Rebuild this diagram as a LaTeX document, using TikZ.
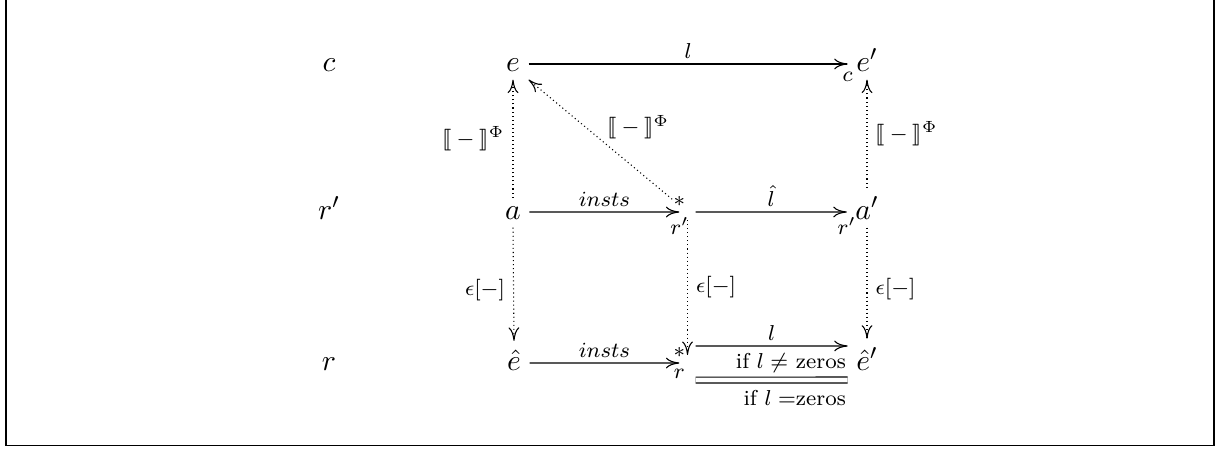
\documentclass[tikz,border=0pt]{standalone}
\usepackage{amsmath,stmaryrd}
\usetikzlibrary{arrows.meta}
\begin{document}
\begin{tikzpicture}[x=0.37037pt,y=-0.37037pt,
  obj/.style={inner sep=3pt, anchor=base, font=\fontsize{10.95}{13}\selectfont},
  lab/.style={font=\fontsize{8}{9.6}\selectfont, inner sep=2pt},
  endlab/.style={font=\fontsize{8}{9.6}\selectfont, inner sep=2pt},
  vlab/.style={font=\fontsize{8}{9.6}\selectfont, inner xsep=3pt, inner ysep=1pt},
  arr/.style={line width=0.4pt, -{Computer Modern Rightarrow[length=5pt,width=4pt]}},
  dotarr/.style={arr, dash pattern=on 0.4pt off 1.1pt},
  eqline/.style={line width=0.4pt, double, double distance=1.8pt},
]
\useasboundingbox (0,0) rectangle (1221,451);
\draw[line width=0.6pt] (6,0) -- (6,445.5) -- (1214,445.5) -- (1214,0);

% row labels
\node[obj] (rc)  at (329,71)  {$c$};
\node[obj] (rrp) at (329,219) {$r'$};
\node[obj] (rr)  at (329,370) {$r$};

% objects
\node[obj] (e)   at (513,71)  {$e$};
\node[obj] (ep)  at (867,71)  {$e'$};
\node[obj] (a)   at (513,219) {$a$};
\node[obj] (ap)  at (867,219) {$a'$};
\node[obj] (eh)  at (514,370) {$\hat e$};
\node[obj] (ehp) at (867,370) {$\hat e'$};
\node[inner sep=2.8pt] (m2) at (687.5,212) {};
\node[inner sep=2.8pt] (m3) at (687.5,363) {};

% row 1
\draw[arr] ([yshift=2.6pt]e.base east) -- ([yshift=2.6pt]ep.base west)
  node[midway,above,lab] {$l$}
  node[pos=1,below,endlab,inner sep=3pt] {$c$};

% row 2
\draw[arr] ([yshift=2.6pt]a.base east) -- (m2.west)
  node[midway,above,lab] {$insts$}
  node[pos=1,above,endlab] {$\ast$}
  node[pos=1,below,endlab] {$r'$};
\draw[arr] (m2.east) -- ([yshift=2.6pt]ap.base west)
  node[midway,above,lab] {$\hat{l}$}
  node[pos=1,below,endlab] {$r'$};

% row 3
\draw[arr] ([yshift=2.6pt]eh.base east) -- (m3.west)
  node[midway,above,lab] {$insts$}
  node[pos=1,above,endlab] {$\ast$}
  node[pos=1,below,endlab] {$r$};
\draw[arr] ([yshift=6.3pt]m3.east) -- ([yshift=8.9pt]ehp.base west)
  node[midway,above,lab] {$l$}
  node[pos=1,anchor=north east,lab,inner xsep=0.5pt,inner ysep=2.5pt] {if $l \neq$ zeros};
\draw[eqline] ([yshift=-6.3pt]m3.east) -- ([yshift=-3.7pt]ehp.base west)
  node[pos=1,anchor=north east,lab,inner xsep=0.5pt,inner ysep=3.5pt] {if $l =$zeros};

% verticals
\draw[dotarr] (a.north) -- (e.south)
  node[midway,left,vlab] {$\llbracket\:-\:\rrbracket^{\Phi}$};
\draw[dotarr] (a.south) -- (eh.north)
  node[pos=0.55,left,vlab] {$\epsilon[-]$};
\draw[dotarr] (m2.south) -- (m3.north)
  node[pos=0.5,right,vlab] {$\epsilon[-]$};
\draw[dotarr] (ap.north) -- (ep.south)
  node[midway,right,vlab] {$\llbracket\:-\:\rrbracket^{\Phi}$};
\draw[dotarr] (ap.south) -- (ehp.north)
  node[pos=0.55,right,vlab] {$\epsilon[-]$};

% diagonal
\draw[dotarr, shorten <=3.5pt] (m2) -- (e.south east)
  node[midway,anchor=south west,lab,inner sep=1pt] {$\llbracket\:-\:\rrbracket^{\Phi}$};
\end{tikzpicture}
\end{document}
